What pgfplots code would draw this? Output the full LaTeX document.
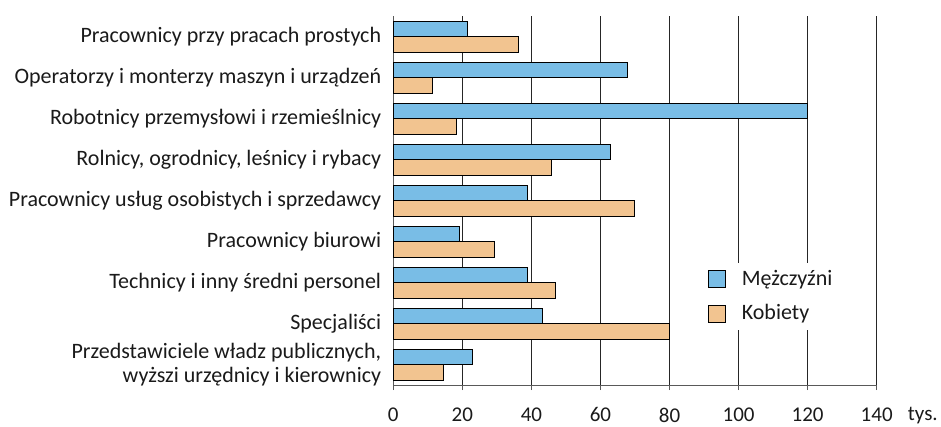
\documentclass[border=0pt]{standalone}
\usepackage{fontspec}
\setmainfont{Carlito}
\usepackage{pgfplots}
\pgfplotsset{compat=1.18}
\definecolor{mblue}{HTML}{79BDE6}
\definecolor{korange}{HTML}{F2C490}
\definecolor{txt}{HTML}{1A1A1A}
\pgfplotsset{sqlegend/.style={legend image code/.code={\draw[##1] (0pt,-8.5pt) rectangle (17pt,8.5pt); \path (31pt,0pt);}}}
\begin{document}
\fontsize{22pt}{24pt}\selectfont
\begin{tikzpicture}
\begin{axis}[
  scale only axis,
  width=483.4pt, height=369pt,
  xmin=0, xmax=140, ymin=-0.5, ymax=8.5,
  axis x line=bottom, axis y line=left,
  axis line style={draw=black!65, line width=0.9pt, -},
  xtick={0,20,...,140},
  xmajorgrids,
  grid style={draw=black!85, line width=0.9pt},
  tick align=outside,
  major tick length=5pt,
  xtick style={draw=black!65, line width=0.9pt},
  ytick={0,...,8},
  yticklabels={{Przedstawiciele władz publicznych,\\wyższi urzędnicy i kierownicy},
    Specjaliści, Technicy i inny średni personel, Pracownicy biurowi,
    Pracownicy usług osobistych i sprzedawcy, {Rolnicy, ogrodnicy, leśnicy i rybacy},
    Robotnicy przemysłowi i rzemieślnicy, Operatorzy i monterzy maszyn i urządzeń,
    Pracownicy przy pracach prostych},
  ytick style={draw=none},
  minor ytick={-0.5,0.5,...,8.5},
  minor tick length=4pt,
  minor tick style={draw=black!65, line width=0.9pt},
  yticklabel style={align=right, font=\fontsize{22pt}{23.5pt}\selectfont, text=txt, inner xsep=0pt, xshift=-7pt},
  /pgf/number format/assume math mode=true,
  xticklabel style={font=\fontsize{21pt}{23pt}\selectfont, text=txt, inner ysep=0pt, yshift=-17.5pt},
  xbar, bar width=15.5pt,
  legend style={at={(axis cs:91.1,1.661)}, anchor=west, draw=none, fill=white,
    font=\fontsize{22pt}{24pt}\selectfont, text=txt, row sep=12pt,
    inner xsep=0pt, inner ysep=5pt, cells={anchor=west}},
  clip=false,
]
\addplot[fill=mblue, draw=black, line width=0.8pt, bar shift=7.75pt, sqlegend]
  coordinates {(23.0,0) (43.3,1) (38.9,2) (19.2,3) (38.9,4) (63.0,5) (120,6) (67.8,7) (21.4,8)};
\addlegendentry{Mężczyźni}
\addplot[fill=korange, draw=black, line width=0.8pt, bar shift=-7.75pt, sqlegend]
  coordinates {(14.5,0) (80,1) (46.9,2) (29.4,3) (69.8,4) (45.9,5) (18.2,6) (11.2,7) (36.2,8)};
\addlegendentry{Kobiety}
\coordinate (SW) at (rel axis cs:0,0);
\node[anchor=base west, text=txt, inner sep=0pt] at ([xshift=31pt,yshift=-35.5pt]rel axis cs:1,0) {\fontsize{21pt}{23pt}\selectfont tys.};
\end{axis}
\pgfresetboundingbox
\path (SW) ++(-393.3pt,-41pt) rectangle ++(941pt,426pt);
\end{tikzpicture}
\end{document}
